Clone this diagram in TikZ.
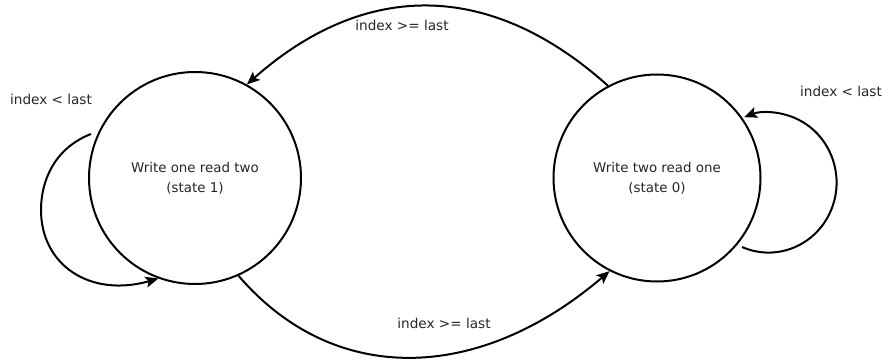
\documentclass[tikz,border=0pt]{standalone}
\usepackage{fontspec}
\setmainfont{DejaVu Sans}
\usetikzlibrary{arrows.meta}
\begin{document}
\begin{tikzpicture}[x=1pt,y=-1pt,
  stnode/.style={circle,draw,line width=2pt,minimum size=#1,inner sep=0pt,align=center,text=black!85,font=\fontsize{13.4}{20}\selectfont},
  edge/.style={line width=2pt,-{Stealth[length=13pt,width=11pt,inset=3pt]}},
  lbl/.style={text=black!85,font=\fontsize{13.6}{15}\selectfont,inner sep=0pt}]
\useasboundingbox (0,0) rectangle (883,363);
\node[stnode=212pt] (L) at (195,178) {Write one read two\\(state 1)};
\node[stnode=207pt] (R) at (657,178) {Write two read one\\(state 0)};
% top transition R -> L
\draw[edge] (R.118) .. controls (490,-20) and (365,-20) .. (L.61);
\node[lbl] (t1) at (402,25) {index >= last};
% bottom transition L -> R
\draw[edge] (L.-66) .. controls (335,388) and (480,382) .. (R.-117);
\node[lbl] (t2) at (444,323) {index >= last};
% left self loop
\coordinate (ls) at (91,134);
\draw[edge] (ls) .. controls (55,148) and (41,180) .. (41,210) .. controls (41,265) and (90,298) .. (L.250);
\node[lbl] (t3) at (51,99) {index < last};
% right self loop
\coordinate (rs) at (742,247);
\draw[edge] (rs) arc[start angle=-113, end angle=111, x radius=68pt, y radius=70pt];
\node[lbl] (t4) at (841,91) {index < last};
\end{tikzpicture}
\end{document}
